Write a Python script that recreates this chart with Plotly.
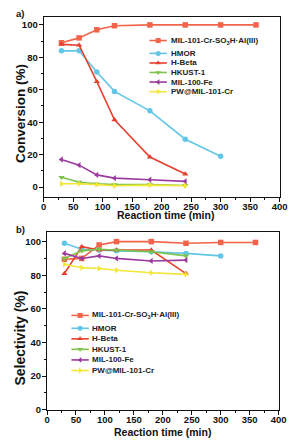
import plotly.graph_objects as go

W, H = 303, 447

# ---------------- data ----------------
time_all = [30, 60, 90, 120, 180, 240, 300, 360]
names = ["MIL-101-Cr-SO<sub>3</sub>H·Al(III)", "HMOR", "H-Beta", "HKUST-1", "MIL-100-Fe", "PW@MIL-101-Cr"]

conv_mil101 = [89, 92, 97, 99.5, 100, 100, 100, 100]
conv_hmor = [84, 84, 71, 59, 47, 29.5, 19]
conv_hbeta = [88, 87.5, 65, 41.5, 18.5, 8]
conv_hkust = [6, 3, 2, 1.5, 1.5, 1]
conv_mil100 = [17, 13.5, 7.5, 5.5, 4.5, 3.5]
conv_pw = [2, 2, 1.5, 0.8, 1.2, 0.8]

sel_mil101 = [89.5, 90, 98, 100, 100, 99, 99.5, 99.5]
sel_hmor = [99, 95.5, 95, 94.5, 94, 93, 91.5]
sel_hbeta = [81, 97, 95, 95, 95, 81]
sel_hkust = [90, 94.5, 95.5, 95, 94, 91.5]
sel_mil100 = [93, 90, 91.5, 90, 88.5, 89]
sel_pw = [86.5, 84.5, 84, 83, 81.5, 80.5]

x_dtick = 50
y_dtick = 20

colors = ["#F2644A", "#62C6E6", "#E8402F", "#7DC24A", "#9B3A9E", "#F2E637"]
symbols = ["square", "circle", "triangle-up", "triangle-down", "triangle-left", "triangle-right"]

conv = [conv_mil101, conv_hmor, conv_hbeta, conv_hkust, conv_mil100, conv_pw]
sel = [sel_mil101, sel_hmor, sel_hbeta, sel_hkust, sel_mil100, sel_pw]

FONT = "Liberation Sans"

fig = go.Figure()

for i in range(6):
    fig.add_trace(go.Scatter(
        x=time_all[:len(conv[i])], y=conv[i], mode="lines+markers",
        line=dict(color=colors[i], width=1.6),
        marker=dict(color=colors[i], symbol=symbols[i], size=5.5),
        xaxis="x", yaxis="y", showlegend=False, cliponaxis=False))
    fig.add_trace(go.Scatter(
        x=time_all[:len(sel[i])], y=sel[i], mode="lines+markers",
        line=dict(color=colors[i], width=1.6),
        marker=dict(color=colors[i], symbol=symbols[i], size=5.5),
        xaxis="x2", yaxis="y2", showlegend=False, cliponaxis=False))

# ---------------- manual legends (pixel overlay axis) ----------------
leg_top = dict(x0=152, x1=170, tx=173, ys=[41, 54, 63.7, 73.3, 83, 92.7])
leg_bot = dict(x0=71, x1=89, tx=91, ys=[319, 332, 342.7, 353.3, 364, 374.7])

annotations = []
for leg in (leg_top, leg_bot):
    for i, yy in enumerate(leg["ys"]):
        fig.add_trace(go.Scatter(
            x=[leg["x0"], leg["x1"]], y=[yy, yy], mode="lines",
            line=dict(color=colors[i], width=1.6),
            xaxis="x3", yaxis="y3", showlegend=False, hoverinfo="skip"))
        fig.add_trace(go.Scatter(
            x=[(leg["x0"] + leg["x1"]) / 2], y=[yy], mode="markers",
            marker=dict(color=colors[i], symbol=symbols[i], size=5),
            xaxis="x3", yaxis="y3", showlegend=False, hoverinfo="skip"))
        annotations.append(dict(
            x=leg["tx"], y=yy, xref="x3", yref="y3", text="<b>" + names[i] + "</b>",
            showarrow=False, xanchor="left", yanchor="middle", borderpad=0,
            font=dict(family=FONT, size=8, color="#222")))


def label(x, y, text, size, angle=0, anchor="center"):
    return dict(x=x, y=y, xref="x3", yref="y3", text="<b>" + text + "</b>", showarrow=False,
                xanchor=anchor, yanchor="middle", textangle=angle, borderpad=0,
                font=dict(family=FONT, size=size, color="#111"))


annotations += [
    label(12, 14, "a)", 9.5, anchor="left"),
    label(12, 232, "b)", 9.5, anchor="left"),
    label(169, 217.5, "Reaction time (min)", 10.5),
    label(166, 436.5, "Reaction time (min)", 10.5),
    label(18, 115, "Conversion (%)", 13.5, angle=-90),
    label(18, 342, "Selectivity (%)", 14, angle=-90),
]


def axis(dom, anchor, rng, dtick, mdtick, standoff):
    return dict(
        domain=dom, anchor=anchor, range=rng, tick0=0, dtick=dtick,
        showline=True, linecolor="#111", linewidth=1.3, mirror=True,
        ticks="outside", ticklen=4, tickwidth=1.2, tickcolor="#111",
        showgrid=False, zeroline=False, ticklabelstandoff=standoff,
        tickfont=dict(family=FONT, size=9.5, color="#111", weight="bold"),
        minor=dict(ticks="outside", ticklen=2, tickwidth=1, tickcolor="#111", dtick=mdtick, tick0=0),
    )


fig.update_layout(
    width=W, height=H,
    margin=dict(l=0, r=0, t=0, b=0),
    paper_bgcolor="white", plot_bgcolor="rgba(0,0,0,0)",
    showlegend=False,
    xaxis=axis([42.3 / W, 287 / W], "y", [0, 400], x_dtick, 25, -3),
    yaxis=axis([1 - 199 / H, 1 - 17 / H], "x", [-6, 105], y_dtick, 10, -1),
    xaxis2=axis([45.7 / W, 286 / W], "y2", [0, 400], x_dtick, 25, -3),
    yaxis2=axis([1 - 414.3 / H, 1 - 235 / H], "x2", [0, 105.5], y_dtick, 10, -1),
    xaxis3=dict(domain=[0, 1], anchor="y3", range=[0, W], visible=False, fixedrange=True),
    yaxis3=dict(domain=[0, 1], anchor="x3", range=[H, 0], visible=False, fixedrange=True),
    annotations=annotations,
)

fig.write_html("out.html", config={"displayModeBar": False},
               post_script="document.body.style.margin='0';document.body.style.padding='0';document.body.style.overflow='hidden';")
